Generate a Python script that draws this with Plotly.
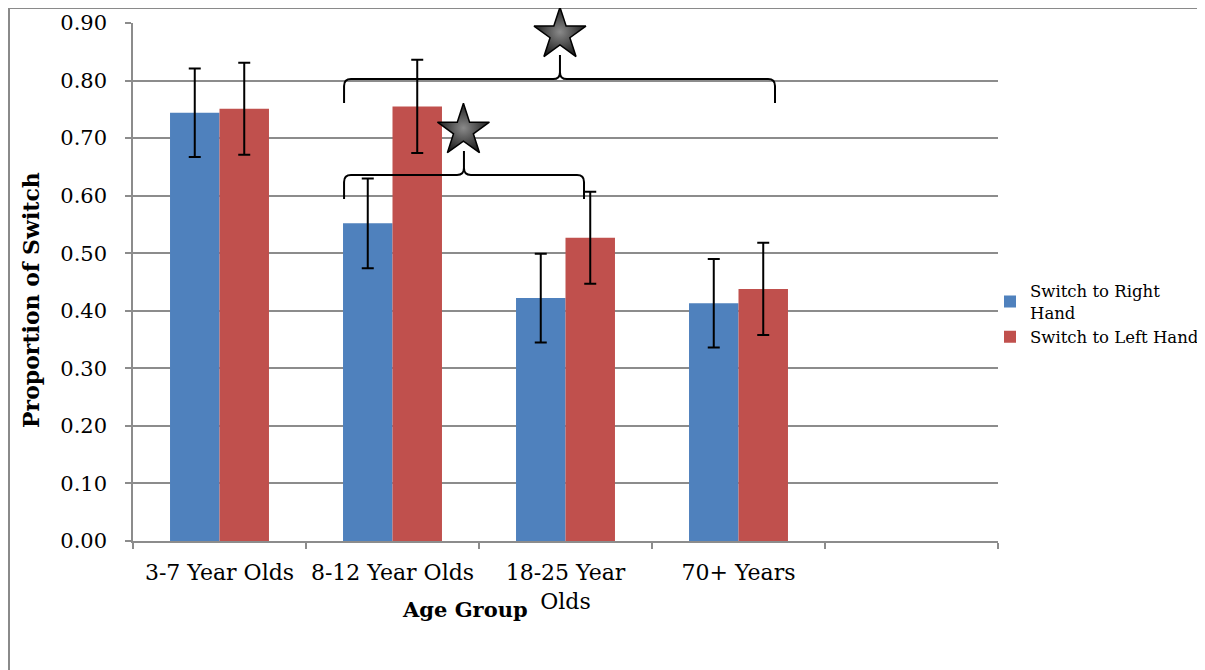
import plotly.graph_objects as go

categories = ["3-7 Year Olds", "8-12 Year Olds", "18-25 Year<br>Olds", "70+ Years", " "]
bar_categories = categories[:4]
right_hand = [0.744, 0.552, 0.422, 0.413]
right_err = [0.077, 0.078, 0.077, 0.077]
left_hand = [0.751, 0.755, 0.527, 0.438]
left_err = [0.080, 0.081, 0.080, 0.080]
series_names = ["Switch to Right<br>Hand", "Switch to Left Hand"]
y_ticks = [0.0, 0.1, 0.2, 0.3, 0.4, 0.5, 0.6, 0.7, 0.8, 0.9]

FONT = "DejaVu Serif"
GRID = "#8c8c8c"

# page is offset by 8px (body margin); plot area target on screen: x 133-998, y 23-541
L, T, PW, PH = 125, 15, 865, 518
W, H = 1197, 662

def px_x(sx):
    return (sx - 8 - L) / PW

def px_y(sy):
    return (T + PH - (sy - 8)) / PH

fig = go.Figure()
fig.add_trace(go.Bar(
    x=bar_categories, y=right_hand, name=series_names[0],
    marker=dict(color="#4F81BD", line=dict(width=0)),
    error_y=dict(type="data", array=right_err, color="black", thickness=2, width=6),
))
fig.add_trace(go.Bar(
    x=bar_categories, y=left_hand, name=series_names[1],
    marker=dict(color="#C0504D", line=dict(width=0)),
    error_y=dict(type="data", array=left_err, color="black", thickness=2, width=6),
))

# significance stars (overlay numeric axis)
fig.add_trace(go.Scatter(
    x=[1.968, 1.410], y=[0.880, 0.713], xaxis="x2", mode="markers",
    marker=dict(symbol="star", size=39, color="#1e1e1e",
                gradient=dict(type="radial", color="#8a8a8a"),
                line=dict(color="black", width=1.5)),
    showlegend=False, hoverinfo="skip", cliponaxis=False,
))

def brace(x0, x1, xm, yh, yl, yt):
    dx, dy = 0.04, 0.012
    return (f"M {x0},{yl} L {x0},{yh-dy} Q {x0},{yh} {x0+dx},{yh} "
            f"L {xm-dx},{yh} Q {xm},{yh} {xm},{yh+dy} L {xm},{yt} "
            f"M {xm},{yh+dy} Q {xm},{yh} {xm+dx},{yh} "
            f"L {x1-dx},{yh} Q {x1},{yh} {x1},{yh-dy} L {x1},{yl}")

shapes = [
    dict(type="path", xref="x2", yref="y", path=brace(0.72, 3.211, 1.968, 0.8026, 0.761, 0.8443),
         line=dict(color="black", width=2)),
    dict(type="path", xref="x2", yref="y", path=brace(0.72, 2.107, 1.413, 0.6359, 0.5942, 0.6776),
         line=dict(color="black", width=2)),
    # outer frame
    dict(type="rect", xref="paper", yref="paper", x0=px_x(9), x1=1.5, y0=-0.5, y1=px_y(8),
         line=dict(color="#8a8a8a", width=2), fillcolor="rgba(0,0,0,0)", layer="below"),
]

fig.update_layout(
    width=W, height=H,
    margin=dict(l=L, r=W - L - PW, t=T, b=H - T - PH, autoexpand=False),
    paper_bgcolor="white", plot_bgcolor="white",
    barmode="group", bargap=0.428, bargroupgap=0,
    font=dict(family=FONT, color="black", size=21),
    shapes=shapes,
    xaxis=dict(type="category", categoryorder="array", categoryarray=categories,
               range=[-0.5, 4.5], tickson="boundaries", ticks="outside", ticklen=6,
               tickcolor=GRID, tickwidth=1.5, showline=True, linecolor=GRID, linewidth=1.5,
               showgrid=False, tickfont=dict(size=22), ticklabelstandoff=11, fixedrange=True),
    xaxis2=dict(overlaying="x", range=[-0.5, 4.5], visible=False, fixedrange=True),
    yaxis=dict(range=[0, 0.9], tickvals=y_ticks, tickformat=".2f", ticks="outside", ticklen=6,
               tickcolor=GRID, tickwidth=1.5, showline=True, linecolor=GRID, linewidth=1.5,
               showgrid=True, gridcolor=GRID, gridwidth=1.5, zeroline=False,
               tickfont=dict(size=21), ticklabelstandoff=14, fixedrange=True),
    legend=dict(x=px_x(990), xanchor="left", y=px_y(314), yanchor="middle",
                font=dict(size=16.5), bgcolor="rgba(0,0,0,0)", itemwidth=30,
                tracegroupgap=4),
    annotations=[
        dict(text="<b>Age Group</b>", xref="paper", yref="paper", x=px_x(465),
             y=px_y(609), showarrow=False, font=dict(size=21),
             xanchor="center", yanchor="middle"),
        dict(text="<b>Proportion of Switch</b>", xref="paper", yref="paper",
             x=px_x(31), y=px_y(300), showarrow=False, textangle=-90,
             font=dict(size=22), xanchor="center", yanchor="middle"),
    ],
    showlegend=True,
)

fig.write_html("out.html")
